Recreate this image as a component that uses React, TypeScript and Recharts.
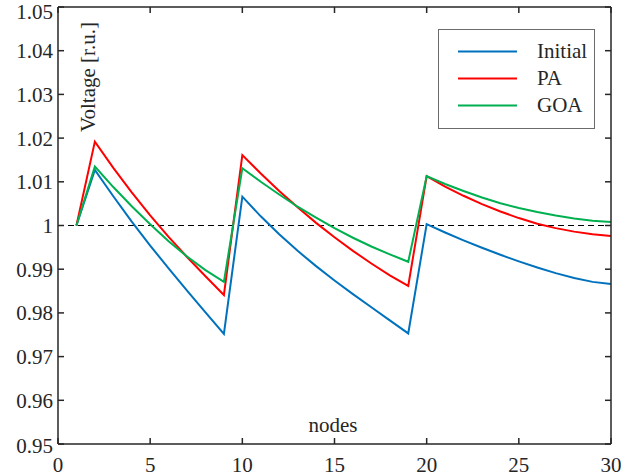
import React from "react";
import {
  LineChart, Line, XAxis, YAxis, ReferenceLine, Legend,
} from "recharts";

const nodes = [1, 2, 3, 4, 5, 6, 7, 8, 9, 10, 11, 12, 13, 14, 15, 16, 17, 18, 19, 20, 21, 22, 23, 24, 25, 26, 27, 28, 29, 30];
const initialV = [1.0, 1.0127, 1.0067, 1.0009, 0.9954, 0.9902, 0.9851, 0.9801, 0.9752, 1.0066, 1.0021, 0.998, 0.9942, 0.9907, 0.9874, 0.9843, 0.9813, 0.9783, 0.9753, 1.0003, 0.9984, 0.9966, 0.9949, 0.9933, 0.9918, 0.9904, 0.9891, 0.988, 0.9871, 0.9866];
const paV = [1.0, 1.0192, 1.0132, 1.0076, 1.0023, 0.9974, 0.9928, 0.9884, 0.9841, 1.0161, 1.0119, 1.0079, 1.0042, 1.0006, 0.9973, 0.9942, 0.9913, 0.9886, 0.9862, 1.0113, 1.0089, 1.0068, 1.0049, 1.0032, 1.0017, 1.0004, 0.9994, 0.9986, 0.998, 0.9976];
const goaV = [1.0, 1.0135, 1.0088, 1.0044, 1.0003, 0.9964, 0.9929, 0.9898, 0.9871, 1.0131, 1.01, 1.0071, 1.0043, 1.0018, 0.9994, 0.9972, 0.9952, 0.9934, 0.9917, 1.0113, 1.0095, 1.0079, 1.0064, 1.0051, 1.004, 1.0031, 1.0023, 1.0016, 1.0011, 1.0008];

const seriesNames = ["Initial", "PA", "GOA"];
const xTicks = [0, 5, 10, 15, 20, 25, 30];
const yTicks = [0.95, 0.96, 0.97, 0.98, 0.99, 1, 1.01, 1.02, 1.03, 1.04, 1.05];

const data = nodes.map((n, i) => ({
  node: n,
  Initial: initialV[i],
  PA: paV[i],
  GOA: goaV[i],
}));

const FONT = "'Liberation Serif', 'Times New Roman', serif";
const INK = "#262626";

function XTick({ x, y, payload }: any) {
  return (
    <text x={x} y={y} dy="0.71em" textAnchor="middle" fontFamily={FONT} fontSize={21} fill={INK}>
      {payload.value}
    </text>
  );
}

function YTick({ x, y, payload }: any) {
  const v = payload.value;
  // keep the end labels inside the picture, as the original does
  const shift = v >= 1.05 ? 5 : v <= 0.95 ? 2 : 0;
  return (
    <text x={x} y={y + shift} dy="0.355em" textAnchor="end" fontFamily={FONT} fontSize={21} fill={INK}>
      {String(Number(Number(v).toFixed(2)))}
    </text>
  );
}

function LegendBox({ payload }: any) {
  const items = [...(payload || [])].sort(
    (a: any, b: any) => seriesNames.indexOf(a.value) - seriesNames.indexOf(b.value)
  );
  return (
    <div
      style={{
        width: 155, height: 90, border: "1px solid #6b6b6b", background: "#fff",
        paddingTop: 8, boxSizing: "content-box", fontFamily: FONT, fontSize: 21, color: INK,
      }}
    >
      {items.map((p: any) => (
        <div key={p.value} style={{ display: "flex", alignItems: "center", height: 27 }}>
          <svg width={79} height={27} style={{ marginLeft: 19 }}>
            <line x1={0} y1={13.5} x2={59} y2={13.5} stroke={p.color} strokeWidth={2} />
          </svg>
          <span style={{ lineHeight: "27px" }}>{p.value}</span>
        </div>
      ))}
    </div>
  );
}

export default function App() {
  return (
    <div style={{ position: "absolute", left: 0, top: 0, width: 639, height: 476, background: "#fff" }}>
      <LineChart width={639} height={476} data={data} margin={{ top: 7, right: 28, bottom: 0, left: 0 }}>
        <XAxis
          xAxisId="b" type="number" dataKey="node" domain={[0, 30]} ticks={xTicks} interval={0}
          height={32} tickSize={-6} tickMargin={19} tick={<XTick />}
          axisLine={{ stroke: INK, strokeWidth: 1.5 }} tickLine={{ stroke: INK, strokeWidth: 1.5 }}
        />
        <XAxis
          xAxisId="t" orientation="top" mirror type="number" dataKey="node" domain={[0, 30]} ticks={xTicks} interval={0}
          tickSize={6} tickFormatter={() => ""}
          axisLine={{ stroke: INK, strokeWidth: 1.5 }} tickLine={{ stroke: INK, strokeWidth: 1.5 }}
        />
        <YAxis
          yAxisId="l" type="number" domain={[0.95, 1.05]} ticks={yTicks} interval={0} allowDataOverflow
          width={58} tickSize={-6} tickMargin={11} tick={<YTick />}
          axisLine={{ stroke: INK, strokeWidth: 1.5 }} tickLine={{ stroke: INK, strokeWidth: 1.5 }}
        />
        <YAxis
          yAxisId="r" orientation="right" mirror type="number" domain={[0.95, 1.05]} ticks={yTicks} interval={0} allowDataOverflow
          tickSize={6} tickFormatter={() => ""}
          axisLine={{ stroke: INK, strokeWidth: 1.5 }} tickLine={{ stroke: INK, strokeWidth: 1.5 }}
        />
        <ReferenceLine xAxisId="b" yAxisId="l" y={1} stroke="#000" strokeWidth={1} strokeDasharray="6 4" />
        <Line xAxisId="b" yAxisId="l" type="linear" dataKey="Initial" stroke="#0072BD" strokeWidth={2} dot={false} isAnimationActive={false} />
        <Line xAxisId="b" yAxisId="l" type="linear" dataKey="PA" stroke="#FF0000" strokeWidth={2} dot={false} isAnimationActive={false} />
        <Line xAxisId="b" yAxisId="l" type="linear" dataKey="GOA" stroke="#00B050" strokeWidth={2} dot={false} isAnimationActive={false} />
        <Legend
          layout="vertical" content={<LegendBox />}
          wrapperStyle={{ left: 438, top: 29, width: 0, height: 0, overflow: "visible" }}
        />
        <text
          x={88} y={77} transform="rotate(-90 88 77)" textAnchor="middle" dominantBaseline="central"
          fontFamily={FONT} fontSize={21} fill={INK}
        >
          Voltage [r.u.]
        </text>
        <text x={333} y={425} textAnchor="middle" dominantBaseline="central" fontFamily={FONT} fontSize={21} fill={INK}>
          nodes
        </text>
      </LineChart>
    </div>
  );
}
